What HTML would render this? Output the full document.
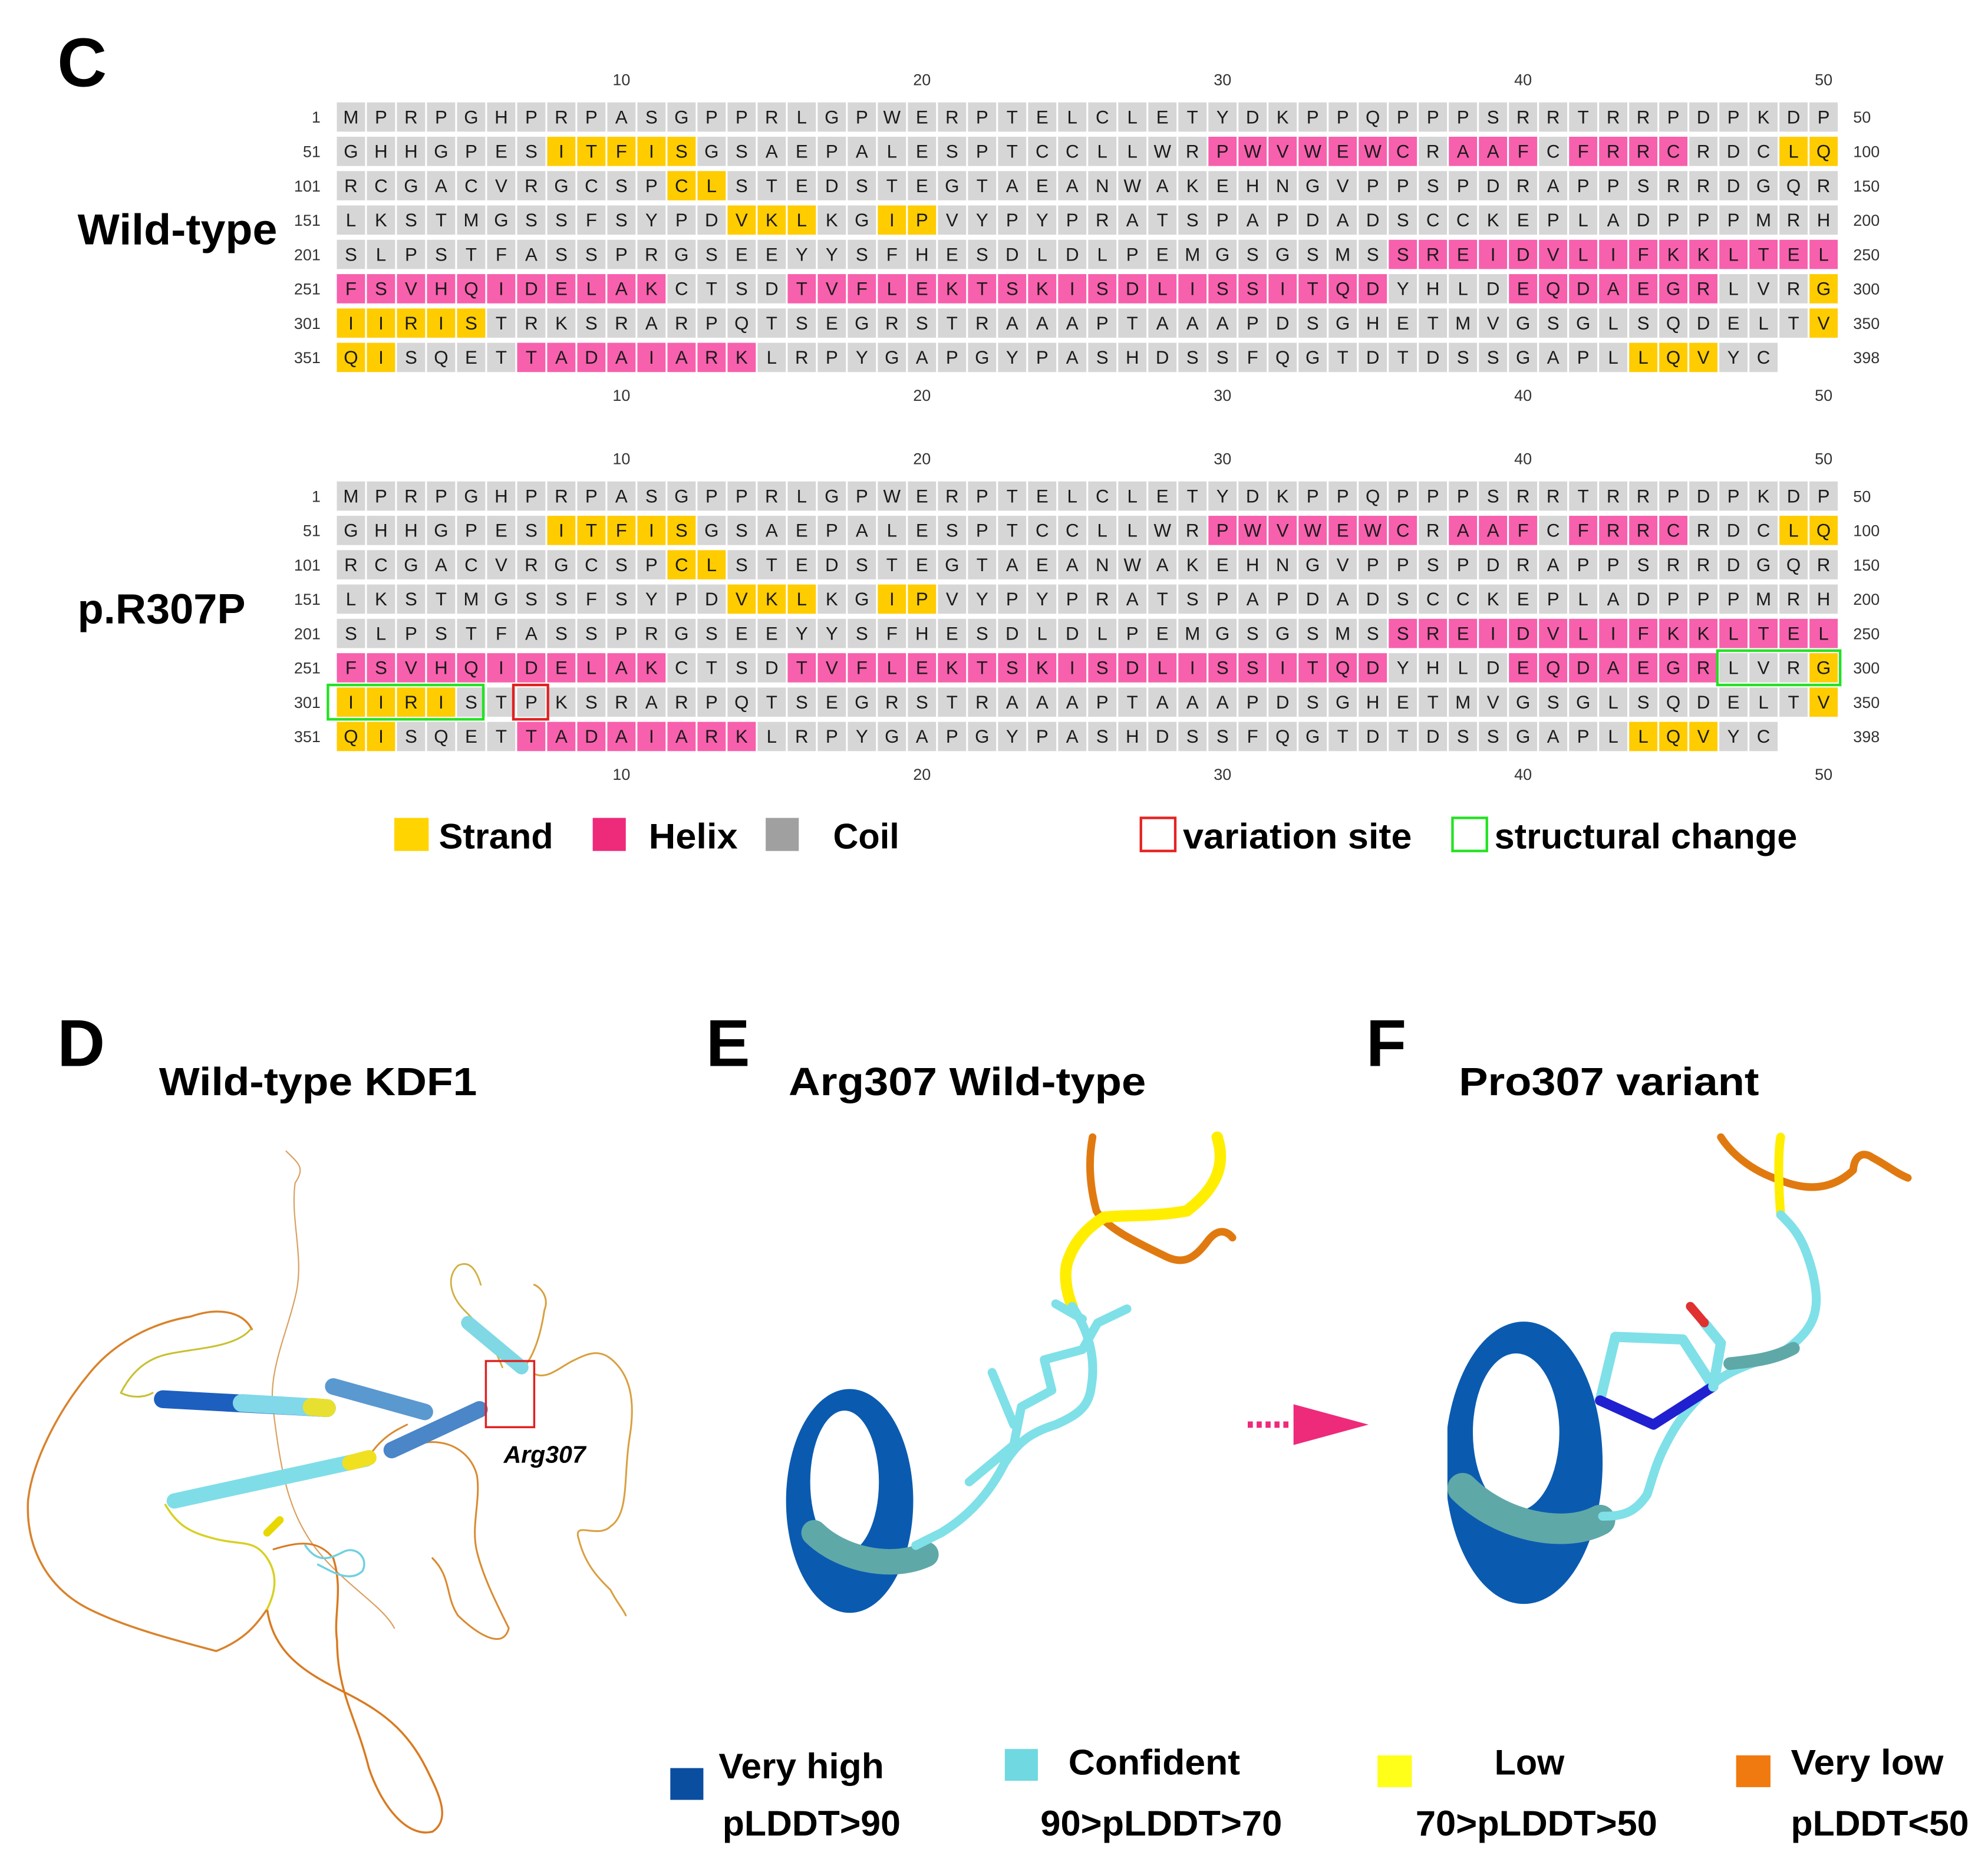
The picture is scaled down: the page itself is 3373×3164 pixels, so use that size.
<!DOCTYPE html>
<html><head><meta charset="utf-8"><style>
html,body{margin:0;padding:0;background:#fff;}
svg{display:block;}
text{font-family:"Liberation Sans",sans-serif;}
.b{font-weight:bold;fill:#000;}
</style></head><body>
<svg id="s" width="3373" height="3164" viewBox="0 0 1563 1466.2" xmlns="http://www.w3.org/2000/svg">
<rect width="1563" height="1466.2" fill="#fff"/>
<g id="grid"></g>
<!-- panel labels -->
<text class="b" x="45" y="68" font-size="54">C</text>
<text class="b" x="61" y="192" font-size="34" textLength="157" lengthAdjust="spacingAndGlyphs">Wild-type</text>
<text class="b" x="61" y="490" font-size="33" textLength="132" lengthAdjust="spacingAndGlyphs">p.R307P</text>
<!-- C legend -->
<rect x="310" y="643" width="27" height="26" fill="#ffd400"/>
<text class="b" x="345" y="667" font-size="28" textLength="90" lengthAdjust="spacingAndGlyphs">Strand</text>
<rect x="466" y="643" width="26" height="26" fill="#ee2a7b"/>
<text class="b" x="510" y="667" font-size="28" textLength="70" lengthAdjust="spacingAndGlyphs">Helix</text>
<rect x="602" y="643" width="26" height="26" fill="#a0a0a0"/>
<text class="b" x="655" y="667" font-size="28" textLength="52" lengthAdjust="spacingAndGlyphs">Coil</text>
<rect x="897" y="643" width="27" height="26" fill="none" stroke="#e52222" stroke-width="2"/>
<text class="b" x="930" y="667" font-size="28" textLength="180" lengthAdjust="spacingAndGlyphs">variation site</text>
<rect x="1142" y="643" width="27" height="26" fill="none" stroke="#22e222" stroke-width="2"/>
<text class="b" x="1175" y="667" font-size="28" textLength="238" lengthAdjust="spacingAndGlyphs">structural change</text>

<!-- D E F -->
<text class="b" x="45" y="838" font-size="52">D</text>
<text class="b" x="555" y="838" font-size="52">E</text>
<text class="b" x="1074" y="838" font-size="52">F</text>
<text class="b" x="125" y="861" font-size="31" textLength="250" lengthAdjust="spacingAndGlyphs">Wild-type KDF1</text>
<text class="b" x="620" y="861" font-size="31" textLength="281" lengthAdjust="spacingAndGlyphs">Arg307 Wild-type</text>
<text class="b" x="1147" y="861" font-size="31" textLength="236" lengthAdjust="spacingAndGlyphs">Pro307 variant</text>

<!-- D structure -->
<g fill="none" stroke-linecap="round" stroke-linejoin="round">
<path d="M198,1045 C190,1030 170,1028 150,1035 C120,1040 90,1055 70,1080 C45,1110 25,1150 22,1180 C20,1220 40,1250 70,1265 C100,1280 140,1290 170,1298 C190,1290 200,1280 210,1265" stroke="#d9822b" stroke-width="1.6"/>
<path d="M225,905 C235,915 240,918 232,930 C228,960 240,990 232,1020 C225,1050 210,1080 215,1110 C220,1150 225,1180 240,1205 C260,1240 300,1260 310,1280" stroke="#d9a060" stroke-width="1"/>
<path d="M210,1265 C215,1300 240,1315 270,1330 C300,1345 320,1360 335,1390 C345,1410 355,1430 340,1440 C320,1445 300,1420 290,1390 C280,1350 265,1330 265,1290 C262,1270 270,1250 262,1225" stroke="#d97a20" stroke-width="1.6"/>
<path d="M262,1225 C250,1210 235,1212 215,1218" stroke="#d97a20" stroke-width="1.4"/>
<path d="M197,1045 C185,1060 150,1060 130,1065 C110,1070 100,1085 95,1095 C105,1100 115,1098 120,1095" stroke="#c8c030" stroke-width="1.4"/>
<path d="M130,1183 C140,1200 150,1205 170,1210 C190,1215 200,1210 210,1225 C220,1240 215,1255 210,1265" stroke="#d8d020" stroke-width="1.6"/>
<path d="M240,1215 C250,1230 260,1225 270,1220 C280,1215 290,1225 285,1235 C275,1245 260,1235 250,1230" stroke="#70d0e0" stroke-width="1.6"/>
<path d="M290,1145 C300,1130 310,1125 320,1120 M330,1135 C350,1130 370,1140 375,1160 C378,1180 370,1200 375,1220 C380,1240 390,1260 400,1280 C395,1300 370,1280 360,1270 C350,1255 355,1240 340,1225" stroke="#d98a30" stroke-width="1.4"/>
<path d="M395,1075 C385,1050 375,1040 365,1030 C355,1020 350,1005 360,995 C370,990 375,1000 378,1010" stroke="#d0b040" stroke-width="1.3"/>
<path d="M412,1075 C420,1065 425,1050 428,1030 C432,1020 425,1012 420,1010 M420,1080 C430,1085 440,1075 450,1070 C460,1065 470,1060 480,1068 C495,1080 500,1100 495,1130 C490,1160 495,1190 480,1200 C470,1210 450,1195 455,1210 C460,1230 470,1240 480,1250 C485,1260 490,1265 492,1270" stroke="#d9a040" stroke-width="1.4"/>
<!-- helices -->
<path d="M128,1100 L257,1107" stroke="#1c5fbf" stroke-width="14"/>
<path d="M190,1103 L257,1107" stroke="#80d8e8" stroke-width="14"/>
<path d="M245,1106 L257,1107" stroke="#e8e030" stroke-width="14"/>
<path d="M262,1090 L334,1110" stroke="#5a98d0" stroke-width="13"/>
<path d="M308,1140 L377,1108" stroke="#4a86c8" stroke-width="13"/>
<path d="M137,1180 L288,1147" stroke="#7fdde8" stroke-width="12"/>
<path d="M275,1150 L290,1146" stroke="#f0e020" stroke-width="12"/>
<path d="M368,1040 L410,1075" stroke="#7fd8e4" stroke-width="11"/>
<path d="M210,1205 L220,1195" stroke="#e8d800" stroke-width="6"/>
</g>
<rect x="382" y="1070" width="38" height="52" fill="none" stroke="#e02020" stroke-width="1.6"/>
<text x="396" y="1150" font-size="19" font-weight="bold" font-style="italic" fill="#000">Arg307</text>

<!-- E structure -->
<g fill="none" stroke-linecap="round" stroke-linejoin="round">
<ellipse cx="668" cy="1180" rx="50" ry="88" fill="#0a5bb0"/>
<ellipse cx="664" cy="1165" rx="27" ry="56" fill="#fff"/>
<rect x="607" y="1180" width="10" height="95" fill="#fff" stroke="none"/>
<path d="M640,1205 C660,1225 700,1235 728,1222" stroke="#5fa8a8" stroke-width="20"/>
<path d="M859,894 C856,910 856,930 862,952 C870,965 890,975 915,987 C930,995 939,990 950,975 C958,965 965,968 969,973" stroke="#e07a10" stroke-width="6"/>
<path d="M957,894 C962,910 962,930 933,952 C905,957 880,955 868,957 C855,965 845,976 840,990 C836,1000 838,1015 843,1027" stroke="#ffee00" stroke-width="9"/>
<path d="M843,1027 C855,1045 862,1066 858,1090 C856,1106 848,1112 830,1120 C808,1127 800,1135 790,1150 C780,1170 765,1190 740,1205 L720,1215" stroke="#7fe0e8" stroke-width="7"/>
<path d="M762,1165 L797,1136 L803,1106 L827,1093 L821,1069 L851,1061 L863,1040 L886,1029 M830,1025 L851,1037 M780,1079 L797,1120" stroke="#7fe0e8" stroke-width="7"/>
</g>
<path d="M981,1120 L1016,1120" stroke="#ee2a7b" stroke-width="5" stroke-dasharray="4,3"/>
<polygon points="1017,1104 1076,1120 1017,1136" fill="#ee2a7b"/>

<!-- F structure -->
<g fill="none" stroke-linecap="round" stroke-linejoin="round">
<ellipse cx="1198" cy="1150" rx="62" ry="111" fill="#0a5bb0"/>
<ellipse cx="1192" cy="1126" rx="34" ry="62" fill="#fff"/>
<rect x="1120" y="1040" width="18" height="230" fill="#fff" stroke="none"/>
<path d="M1150,1170 C1180,1200 1230,1210 1258,1195" stroke="#5fa8a8" stroke-width="24"/>
<path d="M1353,894 C1360,905 1375,920 1400,928 C1420,936 1440,936 1457,920 C1458,908 1465,905 1472,910 C1482,915 1490,922 1500,926" stroke="#e07a10" stroke-width="6"/>
<path d="M1400,894 C1398,905 1398,930 1400,955" stroke="#ffee00" stroke-width="7"/>
<path d="M1400,955 C1410,965 1418,973 1425,1000 C1432,1030 1428,1045 1400,1064 C1380,1072 1360,1075 1341,1093 C1330,1105 1320,1115 1310,1135 C1302,1150 1300,1160 1295,1175 C1285,1190 1275,1192 1260,1192" stroke="#7fe0e8" stroke-width="7"/>
<path d="M1360,1072 C1380,1070 1395,1068 1410,1060" stroke="#5fa8a8" stroke-width="10"/>
<path d="M1347,1090 L1323,1053 L1270,1051 L1258,1101" stroke="#7fe0e8" stroke-width="8"/>
<path d="M1258,1101 L1300,1120 L1347,1090" stroke="#2020d0" stroke-width="8"/>
<path d="M1347,1090 L1353,1056 L1340,1040" stroke="#7fe0e8" stroke-width="8"/>
<path d="M1340,1040 L1329,1027" stroke="#e03030" stroke-width="7"/>
</g>

<!-- bottom legend -->
<rect x="527" y="1390" width="26" height="25" fill="#0a4ea0"/>
<text class="b" x="565" y="1398" font-size="28" textLength="130" lengthAdjust="spacingAndGlyphs">Very high</text>
<text class="b" x="568" y="1443" font-size="28" textLength="140" lengthAdjust="spacingAndGlyphs">pLDDT&gt;90</text>
<rect x="790" y="1375" width="26" height="25" fill="#6fd8e0"/>
<text class="b" x="840" y="1395" font-size="28" textLength="135" lengthAdjust="spacingAndGlyphs">Confident</text>
<text class="b" x="818" y="1443" font-size="28" textLength="190" lengthAdjust="spacingAndGlyphs">90&gt;pLDDT&gt;70</text>
<rect x="1083" y="1380" width="27" height="25" fill="#ffff1a"/>
<text class="b" x="1175" y="1395" font-size="28" textLength="55" lengthAdjust="spacingAndGlyphs">Low</text>
<text class="b" x="1113" y="1443" font-size="28" textLength="190" lengthAdjust="spacingAndGlyphs">70&gt;pLDDT&gt;50</text>
<rect x="1365" y="1380" width="27" height="25" fill="#f07a10"/>
<text class="b" x="1408" y="1395" font-size="28" textLength="120" lengthAdjust="spacingAndGlyphs">Very low</text>
<text class="b" x="1408" y="1443" font-size="28" textLength="140" lengthAdjust="spacingAndGlyphs">pLDDT&lt;50</text>
</svg>
<script>
var seq=["MPRPGHPRPASGPPRLGPWERPTELCLETYDKPPQPPPSRRTRRPDPKDP","GHHGPESITFISGSAEPALESPTCCLLWRPWVWEWCRAAFCFRRCRDCLQ","RCGACVRGCSPCLSTEDSTEGTAEANWAKEHNGVPPSPDRAPPSRRDGQR","LKSTMGSSFSYPDVKLKGIPVYPYPRATSPAPDADSCCKEPLADPPPMRH","SLPSTFASSPRGSEEYYSFHESDLDLPEMGSGSMSSREIDVLIFKKLTEL","FSVHQIDELAKCTSDTVFLEKTSKISDLISSITQDYHLDEQDAEGRLVRG","IIRISTRKSRARPQTSEGRSTRAAAPTAAAPDSGHETMVGSGLSQDELTV","QISQETTADAIARKLRPYGAPGYPASHDSSFQGTDTDSSGAPLLQVYC"];
// c=coil, e=strand, h=helix per row
function ss(row){var a=[];for(var i=0;i<50;i++)a.push('c');return a;}
function set(a,f,t,v){for(var i=f;i<=t;i++)a[i-1]=v;}
function mk(mut){var S=[];for(var r=0;r<8;r++)S.push(ss());
set(S[1],8,12,'e');set(S[1],30,36,'h');set(S[1],38,40,'h');set(S[1],42,45,'h');set(S[1],49,50,'e');
set(S[2],12,13,'e');
set(S[3],14,16,'e');set(S[3],19,20,'e');
set(S[4],36,50,'h');
set(S[5],1,11,'h');set(S[5],16,35,'h');set(S[5],40,46,'h');set(S[5],50,50,'e');
set(S[6],1,mut?4:5,'e');set(S[6],50,50,'e');
set(S[7],1,2,'e');set(S[7],7,14,'h');set(S[7],44,46,'e');
return S;}
var col={c:'#d6d6d6',e:'#ffcc00',h:'#f760ad'};
var g=document.getElementById('grid'),ns='http://www.w3.org/2000/svg',h='';
var x0=264.8,p=23.63,w=22.2,ch=23;
var labs=[1,51,101,151,201,251,301,351],rl=[50,100,150,200,250,300,350,398];
function blk(y0,mut){var S=mk(mut);
 for(var r=0;r<8;r++){var yc=y0+r*27;var s=seq[r];if(mut&&r==6)s=s.substring(0,6)+'P'+s.substring(7);
  h+='<text x="252" y="'+(yc+4.5)+'" font-size="12.5" text-anchor="end" fill="#333">'+labs[r]+'</text>';
  h+='<text x="1457" y="'+(yc+4.5)+'" font-size="12.5" fill="#333">'+rl[r]+'</text>';
  for(var i=0;i<s.length;i++){var x=x0+i*p;
   h+='<rect x="'+x+'" y="'+(yc-ch/2)+'" width="'+w+'" height="'+ch+'" fill="'+col[S[r][i]]+'"/>';
   h+='<text x="'+(x+w/2)+'" y="'+(yc+5)+'" font-size="14.5" text-anchor="middle" fill="#1a1a1a">'+s[i]+'</text>';}}
 [10,20,30,40,50].forEach(function(n){var x=x0+(n-1)*p+w/2;
  h+='<text x="'+x+'" y="'+(y0-25)+'" font-size="12.5" text-anchor="middle" fill="#333">'+n+'</text>';
  h+='<text x="'+x+'" y="'+(y0+7*27+34)+'" font-size="12.5" text-anchor="middle" fill="#333">'+n+'</text>';});
 if(mut){var yr6=y0+5*27,yr7=y0+6*27;
  h+='<rect x="'+(x0+46*p-1.5)+'" y="'+(yr6-13.5)+'" width="'+(4*p+2)+'" height="27" fill="none" stroke="#22e222" stroke-width="2"/>';
  h+='<rect x="'+(x0-7)+'" y="'+(yr7-13.5)+'" width="'+(5*p+4)+'" height="27" fill="none" stroke="#22e222" stroke-width="2"/>';
  h+='<rect x="'+(x0+6*p-3)+'" y="'+(yr7-13.5)+'" width="'+(w+5)+'" height="27" fill="none" stroke="#e02020" stroke-width="2"/>';}
}
blk(92,false);blk(390,true);
g.innerHTML=h;
</script>
</body></html>
